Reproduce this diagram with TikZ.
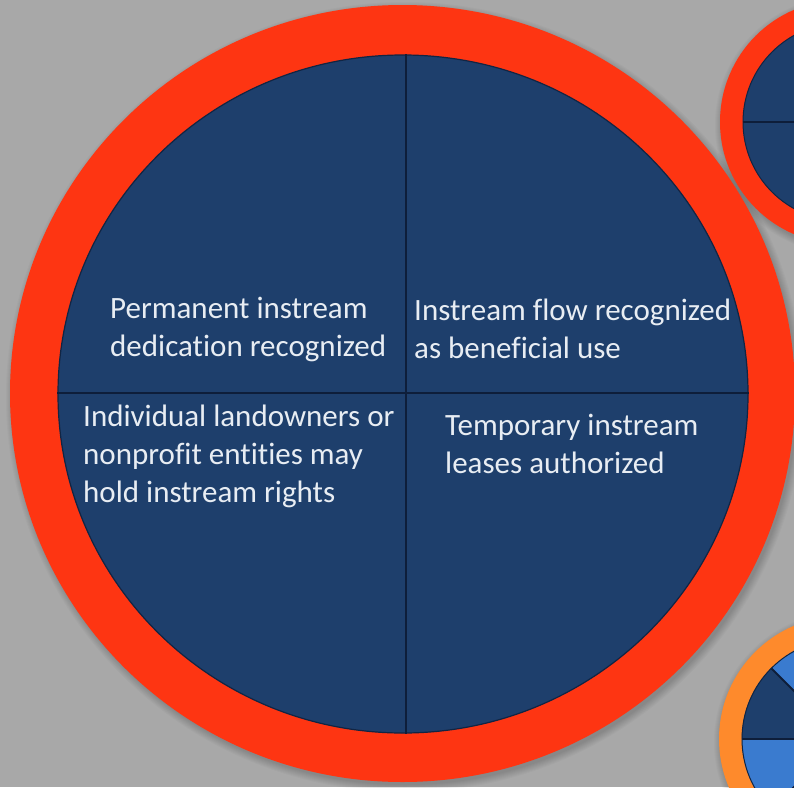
\documentclass[tikz,border=0pt]{standalone}
\usepackage{fontspec}
\setmainfont{Carlito}[Ligatures=NoCommon]
\usetikzlibrary{shapes.geometric}
\definecolor{bggray}{HTML}{A8A8A8}
\definecolor{ringred}{HTML}{FE3512}
\definecolor{navy}{HTML}{1E3F6C}
\definecolor{skyblue}{HTML}{3A7BCF}
\definecolor{ringorange}{HTML}{FE8A2C}
\definecolor{divider}{HTML}{0E1E3A}
\definecolor{label}{HTML}{E8EDF3}
\begin{document}
\begin{tikzpicture}[x=1pt,y=-1pt,
  ring/.style={circle,inner sep=0pt,minimum size=#1},
  oval/.style={ellipse,inner sep=0pt},
  divline/.style={draw=divider,line width=2pt},
  % anchored at the baseline of the last line
  txt/.style={text=label,font=\fontsize{31}{38}\selectfont,align=left,anchor=base west,inner sep=0pt}]
\useasboundingbox (0,0) rectangle (794,787);
\fill[bggray] (0,0) rectangle (794,787);
\begin{scope}
\clip (0,0) rectangle (794,787);
% soft shadows under the rings
\foreach \r in {0,1,...,7}{
  \fill[black,opacity=0.025] (405,397) ellipse ({392+\r} and {388+\r});
  \fill[black,opacity=0.025] (844,125) circle ({122+\r});
  \fill[black,opacity=0.025] (844,742) circle ({123+\r});
}
% main disc
\node[oval,minimum width=785pt,minimum height=777pt,fill=ringred] (outer) at (402.5,393.5) {};
\node[oval,minimum width=690pt,minimum height=678pt,fill=navy,draw=divider!80!navy,line width=1.2pt] (inner) at (403,394) {};
\draw[divline] (inner.north -| 406,0) -- (inner.south -| 406,0);
\draw[divline] (inner.west |- 0,393) -- (inner.east |- 0,393);
% quadrant texts
\node[txt] (t1) at (110,356.5) {Permanent instream\\dedication recognized};
\node[txt] (t2) at (414,358) {Instream flow recognized\\as beneficial use};
\node[txt] (t3) at (83,502) {Individual landowners or\\nonprofit entities may\\hold instream rights};
\node[txt] (t4) at (445,473) {Temporary instream\\leases authorized};
% upper right disc
\node[ring=244pt,fill=ringred] (ur) at (842,122) {};
\node[ring=198pt,fill=navy,draw=divider!80!navy,line width=1pt] (urin) at (842,122) {};
\draw[divline] (urin.west) -- (urin.east);
\draw[divline] (urin.north) -- (urin.south);
% lower right disc with eight sectors
\node[ring=246pt,fill=ringorange] (lr) at (842,739) {};
\node[ring=200pt] (lrin) at (842,739) {};
\foreach \a/\c in {0/skyblue,45/navy,90/skyblue,135/navy,180/skyblue,225/navy,270/skyblue,315/navy}{
  \fill[\c] (lrin.center) -- (lrin.\a) arc[start angle=-\a,end angle=-\a-45,radius=100] -- cycle;
}
\foreach \a in {0,45,...,315}{
  \draw[divline] (lrin.center) -- (lrin.\a);
}
\draw[divider!80!navy,line width=1pt] (lrin) circle (100);
\end{scope}
\end{tikzpicture}
\end{document}
